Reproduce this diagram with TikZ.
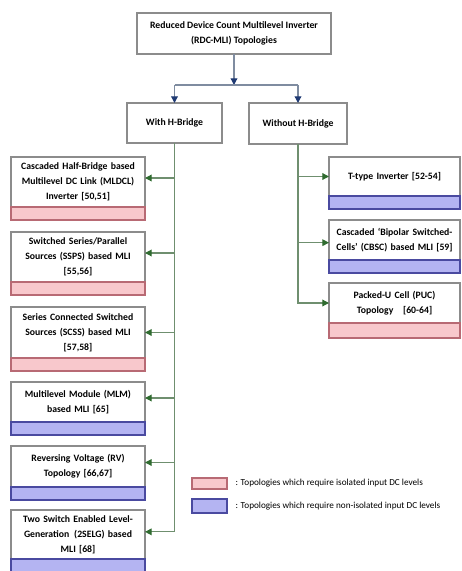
\documentclass[tikz,border=0pt]{standalone}
\usepackage{fontspec}
\setmainfont{Carlito}
\usetikzlibrary{positioning,arrows.meta}

\definecolor{boxline}{HTML}{8C8C8C}
\definecolor{treeline}{HTML}{7F8CA0}
\definecolor{treetip}{HTML}{1F3A73}
\definecolor{brline}{HTML}{6F8F6F}
\definecolor{brtip}{HTML}{2F6B2F}
\definecolor{isofill}{HTML}{F8C8CC}
\definecolor{isoline}{HTML}{B86A74}
\definecolor{nonfill}{HTML}{B4B4F2}
\definecolor{nonline}{HTML}{4A4AA0}

\tikzset{every picture/.style={line width=0.75pt}}
\tikzset{
  topo/.style={draw=boxline, fill=white, line width=0.9pt, outer sep=0pt, inner sep=1pt,
    align=center, font=\bfseries\fontsize{7.3}{11.2}\selectfont},
  leftbox/.style={topo, anchor=north west, minimum width=100.5pt, text width=96pt},
  rightbox/.style={topo, anchor=north west, minimum width=98.25pt, text width=95pt},
  isostrip/.style={draw=isoline, fill=isofill, line width=0.9pt, outer sep=0pt, inner sep=0pt},
  nonstrip/.style={draw=nonline, fill=nonfill, line width=0.9pt, outer sep=0pt, inner sep=0pt},
  treearr/.style={draw=treeline, line width=0.9pt, -{Triangle[length=5pt,width=5pt,color=treetip]}},
  brarr/.style={draw=brline, line width=0.9pt, -{Triangle[length=5pt,width=5pt,color=brtip]}},
  legtext/.style={font=\fontsize{6.9}{7.5}\selectfont, inner sep=0pt, anchor=west}
}

\begin{document}
\begin{tikzpicture}[x=0.75pt,y=0.75pt,yscale=-1,xscale=1]
\useasboundingbox (0,0) rectangle (461,571); %set diagram size 461 x 571

%Shape: Rectangle [top]
\node (rdc) at (234,33.5) [topo, minimum width=145.5pt, minimum height=30.75pt]
  {Reduced Device Count Multilevel Inverter\\(RDC-MLI) Topologies};
%Shape: Rectangle [with / without H-Bridge]
\node (withhb) at (174.5,123) [topo, minimum width=71.25pt, minimum height=30pt] {With H-Bridge};
\node (wohb) at (298,123.5) [topo, minimum width=73.5pt, minimum height=30.75pt] {Without H-Bridge};

% Left column
\node (mldcl) at (11,157) [leftbox, minimum height=37.5pt]
  {Cascaded Half-Bridge based\\Multilevel DC Link (MLDCL)\\Inverter [50,51]};
\node (mldcls) [isostrip, below=0pt of mldcl, minimum width=100.5pt, minimum height=9.75pt] {};
\node (ssps) at (11,232) [leftbox, minimum height=37.5pt]
  {Switched Series/Parallel\\Sources (SSPS) based MLI\\{}[55,56]};
\node (sspss) [isostrip, below=0pt of ssps, minimum width=100.5pt, minimum height=9.75pt] {};
\node (scss) at (11,307) [leftbox, minimum height=38.25pt]
  {Series Connected Switched\\Sources (SCSS) based MLI\\{}[57,58]};
\node (scsss) [isostrip, below=0pt of scss, minimum width=100.5pt, minimum height=9.75pt] {};
\node (mlm) at (11,382) [leftbox, minimum height=30pt]
  {Multilevel Module (MLM)\\based MLI [65]};
\node (mlms) [nonstrip, below=0pt of mlm, minimum width=100.5pt, minimum height=9.75pt] {};
\node (rv) at (11,446) [leftbox, minimum height=30.75pt]
  {Reversing Voltage (RV)\\Topology [66,67]};
\node (rvs) [nonstrip, below=0pt of rv, minimum width=100.5pt, minimum height=9.75pt] {};
\node (tselg) at (11,510) [leftbox, minimum height=36.75pt]
  {Two Switch Enabled Level-\\Generation\enspace(2SELG) based\\MLI [68]};
\node (tselgs) [nonstrip, below=0pt of tselg, minimum width=100.5pt, minimum height=9.75pt] {};

% Right column
\node (ttype) at (329,157) [rightbox, minimum height=29.25pt] {T-type Inverter [52-54]};
\node (ttypes) [nonstrip, below=0pt of ttype, minimum width=98.25pt, minimum height=9.75pt] {};
\node (cbsc) at (329,220) [rightbox, minimum height=30pt]
  {Cascaded `Bipolar Switched-\\Cells' (CBSC) based MLI [59]};
\node (cbscs) [nonstrip, below=0pt of cbsc, minimum width=98.25pt, minimum height=9.75pt] {};
\node (puc) at (329,283) [rightbox, minimum height=30pt]
  {Packed-U Cell (PUC)\\Topology\quad [60-64]};
\node (pucs) [isostrip, below=0pt of puc, minimum width=98.25pt, minimum height=11.25pt] {};

%Straight Lines [tree]
\coordinate (split) at (234,85);
\draw[treearr] (rdc.south) -- (split);
\draw[treeline, line width=0.9pt] (split -| withhb.north) -- (split -| wohb.north);
\draw[treearr] (split -| withhb.north) -- (withhb.north);
\draw[treearr] (split -| wohb.north) -- (wohb.north);

%Straight Lines [branches]
\draw[brarr] (withhb.south) |- ([yshift=-3pt]mldcl.east);
\draw[brarr] (withhb.south) |- ([yshift=-3pt]ssps.east);
\draw[brarr] (withhb.south) |- (scss.east);
\draw[brarr] (withhb.south) |- ([yshift=-3pt]mlm.east);
\draw[brarr] (withhb.south) |- ([yshift=-3pt]rv.east);
\draw[brarr] (withhb.south) |- ([yshift=-2pt]tselg.east);
\draw[brarr] (wohb.south) |- (ttype.west);
\draw[brarr] (wohb.south) |- ([yshift=2pt]cbsc.west);
\draw[brarr] (wohb.south) |- (puc.west);

% Legend
\node (legiso) at (192,478) [isostrip, anchor=north west, minimum width=26.25pt, minimum height=8.25pt] {};
\node (legnon) at (192,499) [nonstrip, anchor=north west, minimum width=26.25pt, minimum height=10.5pt] {};
% Text Node
\node (legisot) [legtext, right=6pt of legiso] {: Topologies which require isolated input DC levels};
% Text Node
\node (legnont) [legtext, right=6pt of legnon] {: Topologies which require non-isolated input DC levels};

\end{tikzpicture}
\end{document}
